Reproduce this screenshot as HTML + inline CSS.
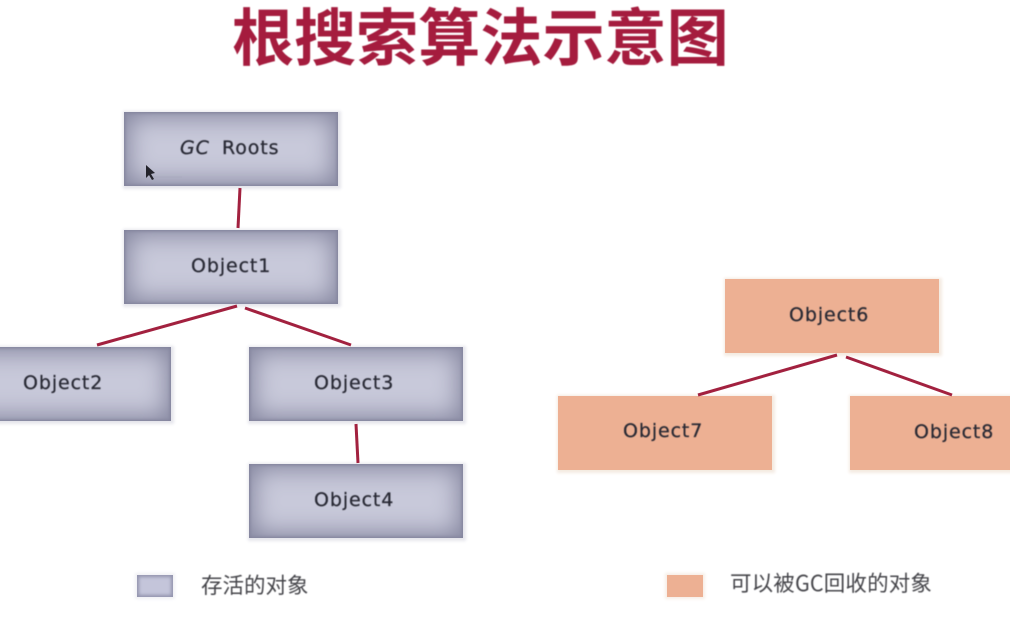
<!DOCTYPE html>
<html lang="zh">
<head>
<meta charset="utf-8">
<style>
html,body{margin:0;padding:0;background:#fff;}
#p{position:relative;width:1010px;height:644px;overflow:hidden;background:#fff;font-family:"DejaVu Sans","Liberation Sans",sans-serif;}
.b{position:absolute;box-sizing:border-box;width:214px;height:74px;box-shadow:1px 1px 3px 2px #e6e6ec;overflow:hidden;}
.g{background:#c8c9da;}
.g:before{content:"";position:absolute;inset:0;box-shadow:inset 0 0 24px 5px #85869f,inset 0 0 3px 1px #74758e;}
.o{background:#edb093;box-shadow:1px 1px 3px 2px #f4ebe2;}
.t{position:absolute;font-size:19px;color:#272833;white-space:nowrap;line-height:22px;letter-spacing:.9px;filter:blur(.4px);-webkit-text-stroke:.25px #272833;}
.h{position:absolute;left:232px;top:-3px;font:bold 62.1px/72px "Noto Sans CJK SC","Liberation Sans",sans-serif;color:#a51c3e;white-space:nowrap;filter:blur(.5px);}
.l{position:absolute;font:21.5px/26px "Noto Sans CJK SC","Liberation Sans",sans-serif;color:#45454a;white-space:nowrap;filter:blur(.6px);}
.s{position:absolute;box-sizing:border-box;width:36px;height:22px;}
svg{position:absolute;left:0;top:0;}
</style>
</head>
<body>
<div id="p">
<div class="h">根搜索算法示意图</div>

<div class="b g" style="left:124px;top:112px;"></div>
<div class="b g" style="left:124px;top:230px;"></div>
<div class="b g" style="left:-43px;top:347px;"></div>
<div class="b g" style="left:249px;top:347px;"></div>
<div class="b g" style="left:249px;top:464px;"></div>
<div class="b o" style="left:725px;top:279px;"></div>
<div class="b o" style="left:558px;top:396px;"></div>
<div class="b o" style="left:850px;top:396px;"></div>

<svg width="1010" height="644" viewBox="0 0 1010 644">
<g stroke="#a2213f" stroke-width="3" fill="none">
<line x1="240" y1="188" x2="238" y2="228"/>
<line x1="237" y1="306" x2="97" y2="345"/>
<line x1="245" y1="308" x2="351" y2="345"/>
<line x1="356" y1="424" x2="358" y2="463"/>
<line x1="837" y1="355" x2="698" y2="395"/>
<line x1="846" y1="357" x2="952" y2="395"/>
</g>
<path d="M146 165 L146 178 L149 175 L152 180 L154 179 L151 174 L155 173 Z" fill="#23232b"/>
<line x1="153" y1="177" x2="182" y2="177" stroke="#a9aabd" stroke-width="1"/>
</svg>

<div class="t" style="left:180px;top:137px;"><i>GC</i></div>
<div class="t" style="left:222px;top:137px;">Roots</div>
<div class="t" style="left:191px;top:255px;">Object1</div>
<div class="t" style="left:23px;top:372px;">Object2</div>
<div class="t" style="left:314px;top:372px;">Object3</div>
<div class="t" style="left:314px;top:489px;">Object4</div>
<div class="t" style="left:789px;top:304px;">Object6</div>
<div class="t" style="left:623px;top:420px;">Object7</div>
<div class="t" style="left:914px;top:421px;">Object8</div>

<div class="s" style="left:137px;top:575px;background:#c4c5da;box-shadow:inset 0 0 3px 2px #9394ae,0 0 3px 2px #f0f0f4;"></div>
<div class="l" style="left:201px;top:572px;">存活的对象</div>
<div class="s" style="left:667px;top:575px;background:#edb093;box-shadow:0 0 3px 2px #f6eee6;"></div>
<div class="l" style="left:730px;top:570px;letter-spacing:.15px;">可以被GC回收的对象</div>
</div>
</body>
</html>
